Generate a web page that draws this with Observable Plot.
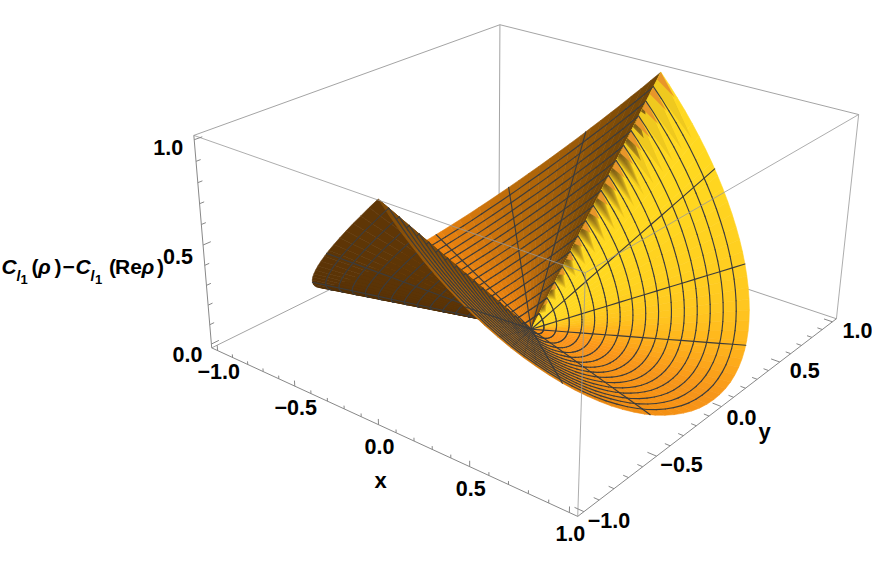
<!DOCTYPE html>
<html><head><meta charset="utf-8">
<script src="https://cdn.jsdelivr.net/npm/d3@7"></script>
<script src="https://cdn.jsdelivr.net/npm/@observablehq/plot@0.6"></script>
<style>html,body{margin:0;background:#fff;overflow:hidden}svg{display:block}</style></head><body>
<script>
// height of the surface on the rim, read every 3 degrees over a quarter turn
const rimQuarter=[0,.001,.005,.012,.022,.034,.049,.066,.086,.109,.134,.161,.191,.223,.257,.293,.331,.371,.412,.455,.5,.546,.593,.642,.691,.741,.792,.844,.895,.948,1];
const ringCount=17;
const spokeAngles=[-157.5,-135,-112.5,-67.5,-45,-22.5,22.5,45,67.5,112.5,135,157.5];
const xTicks=[-1,-.9,-.8,-.7,-.6,-.5,-.4,-.3,-.2,-.1,0,.1,.2,.3,.4,.5,.6,.7,.8,.9,1];
const yTicks=xTicks;
const zTicks=[0,.1,.2,.3,.4,.5,.6,.7,.8,.9,1];
const xLabels=[-1,-.5,0,.5,1], yLabels=[-1,-.5,0,.5,1];
// box corners: [x,y,z] in data units and where they fall in the picture
const boxCorners=[[-1.04,-1.04,1.02],[-1.04,1.04,1.02],[1.04,1.04,1.02],[1.04,-1.04,1.02],[-1.04,-1.04,-.02],[-1.04,1.04,-.02],[1.04,1.04,-.02],[1.04,-1.04,-.02]];
const cornerPixels=[[193.5,135],[499,24],[858,114],[585.5,272.5],[211,347],[499,206],[836,318],[576.7,516]];
// surface shading by angle, near the centre and at the rim
const shadeAngles=[-180,-165,-150,-130,-100,-90.01,-89.99,-70,-60,-30,-10,0,10,22,35,50,70,89.99,90.01,100,115,135,160,180];
const shadeInner=["#4a2a05","#4e2c05","#50300a","#5a3306","#5f3606","#5f3606","#7a4808","#b0660c","#c8740e","#ee8a10","#f79315","#fa9018","#ff9018","#ff9a18","#ffc01c","#ffd820","#ffdc22","#ffda22","#6e4408","#8a5208","#b0640a","#e07c0c","#f58810","#fa9012"];
const shadeOuter=["#4a2a05","#4e2c05","#4e2c05","#5a3306","#5f3606","#5f3606","#7a4808","#b0660c","#c8740e","#ee8a10","#f79315","#f5941a","#fba01a","#ffb41c","#ffc820","#ffd020","#ffd820","#ffd822","#6e4408","#7d4a06","#9a5a08","#bc6c0a","#ee8410","#f58a10"];

function solve(A,b){const n=b.length,M=A.map((r,i)=>[...r,b[i]]);
 for(let i=0;i<n;i++){let p=i;for(let j=i+1;j<n;j++)if(Math.abs(M[j][i])>Math.abs(M[p][i]))p=j;[M[i],M[p]]=[M[p],M[i]];
  for(let j=0;j<n;j++)if(j!==i){const f=M[j][i]/M[i][i];for(let k=i;k<=n;k++)M[j][k]-=f*M[i][k];}}
 return M.map((r,i)=>r[n]/r[i]);}
const rowsA=[],rowsB=[];
boxCorners.forEach(([x,y,z],i)=>{const [u,v]=cornerPixels[i];
 rowsA.push([x,y,z,1,0,0,0,0,-u*x,-u*y,-u*z]);rowsB.push(u);
 rowsA.push([0,0,0,0,x,y,z,1,-v*x,-v*y,-v*z]);rowsB.push(v);});
const AtA=Array.from({length:11},(_,i)=>Array.from({length:11},(_,j)=>d3.sum(rowsA,r=>r[i]*r[j])));
const Atb=Array.from({length:11},(_,i)=>d3.sum(rowsA,(r,k)=>r[i]*rowsB[k]));
const P=solve(AtA,Atb);
function proj(x,y,z){const w=P[8]*x+P[9]*y+P[10]*z+1;return {px:(P[0]*x+P[1]*y+P[2]*z+P[3])/w,py:(P[4]*x+P[5]*y+P[6]*z+P[7])/w,w};}

function rimAt(a){let t=Math.abs(a);if(t>90)t=180-t;const s=t/3,i=Math.min(29,Math.floor(s));return rimQuarter[i]+(rimQuarter[i+1]-rimQuarter[i])*(s-i);}
function surf(r,a){const q=a*Math.PI/180;return proj(r*Math.cos(q),r*Math.sin(q),r*rimAt(a));}
function shade(a,r){const i=Math.max(0,Math.min(shadeAngles.length-2,d3.bisectRight(shadeAngles,a)-1));
 const t=(a-shadeAngles[i])/(shadeAngles[i+1]-shadeAngles[i]);
 const inner=d3.interpolateRgb(shadeInner[i],shadeInner[i+1])(t),outer=d3.interpolateRgb(shadeOuter[i],shadeOuter[i+1])(t);
 return d3.interpolateRgb(inner,outer)(Math.min(1,r*1.6));}

const paths=[];
for(let a=-180;a<180;a+=3)for(let k=0;k<ringCount;k++){
 const r0=k/ringCount,r1=(k+1)/ringCount,c=shade(a+1.5,(r0+r1)/2);
 const pts=[surf(r0,a),surf(r1,a),surf(r1,a+3),surf(r0,a+3)];pts.push(pts[0]);
 paths.push({w:d3.mean(pts.slice(0,4),p=>p.w),pts,fill:c,stroke:c,sw:.6});
}
// soft dark teeth beside the ridge
const toothColor=d3.interpolateRgb("#ffd820","#806016");
const toothLevels=10;
for(let k=1;k<ringCount;k++){
 const r0=k/ringCount,r1=(k+1)/ringCount;
 for(let L=0;L<toothLevels;L++){
  const t=L/toothLevels,apexA=90-14*(1-t),rm=r0+(r1-r0)*.45;
  const a1=surf(r0+(r1-r0)*.35*t,90),a2=surf(r1-(r1-r0)*.1*t,90);
  const q=surf(rm,apexA);
  const c=toothColor(Math.pow((L+1)/toothLevels,.9));
  const pts=[a1,q,a2,a1];
  paths.push({w:d3.mean(pts,p=>p.w)-.006-L*.0002,pts,fill:c,stroke:"none",sw:0});
 }
 const b1=surf(r1,90),b2=surf(r1-(r1-r0)*.5,90),b3=surf(r1-(r1-r0)*.15,84.5);
 paths.push({w:d3.mean([b1,b2,b3],p=>p.w)-.009,pts:[b1,b2,b3,b1],fill:"#e8962a",stroke:"none",sw:0});
}
const bias=.012, ink="#3c3c3c";
for(let a=-180;a<180;a+=3)for(let k=1;k<ringCount;k++){
 const r=k/ringCount,pts=[surf(r,a),surf(r,a+3)];
 paths.push({w:d3.mean(pts,p=>p.w)-bias,pts,fill:"none",stroke:ink,sw:1.15});
}
for(const a of spokeAngles)for(let k=0;k<ringCount;k++){
 const pts=[surf(k/ringCount,a),surf((k+1)/ringCount,a)];
 paths.push({w:d3.mean(pts,p=>p.w)-bias,pts,fill:"none",stroke:ink,sw:1.15});
}
paths.sort((a,b)=>b.w-a.w);
const surfaceRows=paths.flatMap((p,id)=>p.pts.map(q=>({id,px:q.px,py:q.py,fill:p.fill,stroke:p.stroke,sw:p.sw})));

function edge(i,j){const a=proj(...boxCorners[i]),b=proj(...boxCorners[j]);return {x1:a.px,y1:a.py,x2:b.px,y2:b.py};}
const backEdges=[[0,1],[1,2],[1,5],[4,5],[5,6]].map(e=>edge(...e));
const frontEdges=[[0,3],[2,3],[3,7],[2,6]].map(e=>edge(...e));
const axisEdges=[[0,4],[4,7],[7,6]].map(e=>edge(...e));
const isMajor=v=>Math.abs(v*2-Math.round(v*2))<1e-6;
function tick(lenMaj,lenMin,v,f){const l=isMajor(v)?lenMaj:lenMin;const p=proj(...f(0)),q=proj(...f(l));return {x1:p.px,y1:p.py,x2:q.px,y2:q.py};}
const tickRows=[
 ...xTicks.map(v=>tick(.028,.016,v,l=>[v,-1.04,-.02+l])),
 ...yTicks.map(v=>tick(.045,.026,v,l=>[1.04-l,v,-.02])),
 ...zTicks.map(v=>tick(.045,.026,v,l=>[-1.04,-1.04+l,v]))
];
const fmt=d3.format(".1f"), lab=v=>fmt(v).replace("-","\u2212");
const font="Liberation Sans";
const tickText=(vals,f,dx,dy)=>Plot.text(vals.map(v=>({...proj(...f(v)),t:lab(v)})),{x:"px",y:"py",text:"t",dx,dy,fontFamily:font,fontWeight:"bold",fontSize:21.5,fill:"#000"});
const piece=(t,x,y,size,style)=>Plot.text([t],{x:()=>x,y:()=>y,text:d=>d,textAnchor:"start",lineAnchor:"bottom",fontFamily:font,fontWeight:"bold",fontStyle:style||"normal",fontSize:size,fill:"#000"});
const base=273;
const plot=Plot.plot({width:872,height:573,margin:0,x:{domain:[0,872],axis:null},y:{domain:[573,0],axis:null},color:{type:"identity"},
 marks:[
  Plot.link(backEdges,{x1:"x1",y1:"y1",x2:"x2",y2:"y2",stroke:"#a4a4a4",strokeWidth:1}),
  Plot.line(surfaceRows,{x:"px",y:"py",z:"id",fill:"fill",stroke:"stroke",strokeWidth:"sw"}),
  Plot.link(frontEdges,{x1:"x1",y1:"y1",x2:"x2",y2:"y2",stroke:"#999",strokeWidth:1,strokeOpacity:.8}),
  Plot.link(axisEdges,{x1:"x1",y1:"y1",x2:"x2",y2:"y2",stroke:"#888",strokeWidth:1}),
  Plot.link(tickRows,{x1:"x1",y1:"y1",x2:"x2",y2:"y2",stroke:"#888",strokeWidth:1}),
  tickText(xLabels,v=>[v,-1.04,-.02],1,22),
  tickText(yLabels.filter(v=>v!==0),v=>[1.04,v,-.02],25,9),
  tickText([0],v=>[1.04,v,-.02],20,12),
  tickText([1],v=>[-1.04,-1.04,v],-26,8),
  tickText([.5],v=>[-1.04,-1.04,v],-25,12),
  tickText([0],v=>[-1.04,-1.04,v],-24,11),
  Plot.text(["x"],{x:()=>380,y:()=>480,text:d=>d,fontFamily:font,fontWeight:"bold",fontSize:22,fill:"#000"}),
  Plot.text(["y"],{x:()=>764,y:()=>431,text:d=>d,fontFamily:font,fontWeight:"bold",fontSize:22,fill:"#000"}),
  piece("C",1,base,21,"italic"),piece("l",16,base+7,14,"italic"),piece("1",20,base+10,13),
  piece("(",31,base,21),piece("\u03c1",37.5,base,21,"italic"),piece(")",54,base,21),piece("\u2212",62,base,21),
  piece("C",75,base,21,"italic"),piece("l",90,base+7,14,"italic"),piece("1",94.5,base+10,13),
  piece("(",108.5,base,21),piece("Re",114.5,base,21),piece("\u03c1",141,base,21,"italic"),piece(")",156.5,base,21)
 ]});
document.body.append(plot);
</script></body></html>
